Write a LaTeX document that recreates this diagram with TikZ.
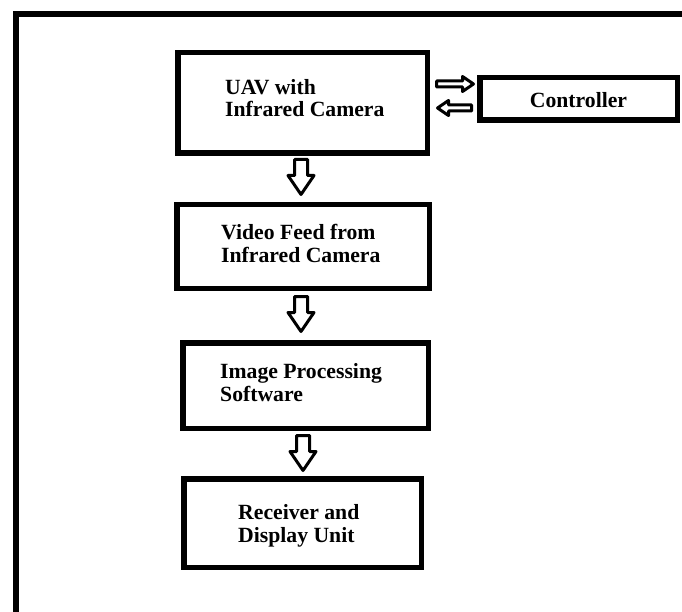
\documentclass[tikz,border=0pt]{standalone}
\usepackage{fontspec}
\setmainfont{Liberation Serif}
\begin{document}
\begin{tikzpicture}[x=1pt,y=-1pt,
  box/.style={draw, line width=5.5pt, inner sep=0pt, fill=white},
  lbl/.style={font=\bfseries\fontsize{21.7}{22.5}\selectfont, align=left, anchor=base west, inner sep=0pt},
  blk/.style={draw, line width=3pt, fill=white, line join=round}]
\useasboundingbox (0,0) rectangle (682,612);
\clip (0,0) rectangle (682,612);
\draw[line width=6pt] (16,640) -- (16,14) -- (700,14);
% boxes
\node[box, minimum width=249.5pt, minimum height=100.5pt] (uav) at (302.5,103) {};
\node[box, minimum width=197.5pt, minimum height=42.5pt] (ctrl) at (578.5,99) {};
\node[box, minimum width=252.5pt, minimum height=83.5pt] (video) at (303,246.5) {};
\node[box, minimum width=245.5pt, minimum height=85.5pt] (proc) at (305.5,385.5) {};
\node[box, minimum width=237.5pt, minimum height=88.5pt] (recv) at (302.5,523) {};
% labels
\node[lbl] (uavt) at (225,117) {UAV with\\Infrared Camera};
\node[font=\bfseries\fontsize{21.7}{22.5}\selectfont, inner sep=0pt] (ctrlt) at (578.5,100) {Controller};
\node[lbl] (videot) at (221,262) {Video Feed from\\Infrared Camera};
\node[lbl] (proct) at (220,401) {Image Processing\\Software};
\node[lbl] (recvt) at (238,542) {Receiver and\\Display Unit};
% anchor points of the block arrows
\coordinate (a1) at (301,159.5);
\coordinate (a2) at (301,296.5);
\coordinate (a3) at (303,435.5);
\coordinate (a4) at (436.5,84);
\coordinate (a5) at (471.5,108);
% downward block arrows
\foreach \c in {a1,a2,a3}{
  \draw[blk] (\c) ++(-6.5,0) -- ++(13,0) -- ++(0,16) -- ++(6.5,0) -- ++(-13,19) -- ++(-13,-19) -- ++(6.5,0) -- cycle;
}
% right arrow (UAV -> Controller)
\draw[blk] (a4) ++(0,-3) -- ++(26,0) -- ++(0,-4.5) -- ++(11,7.5) -- ++(-11,7.5) -- ++(0,-4.5) -- ++(-26,0) -- cycle;
% left arrow (Controller -> UAV)
\draw[blk] (a5) ++(0,-3) -- ++(-23,0) -- ++(0,-4.5) -- ++(-11,7.5) -- ++(11,7.5) -- ++(0,-4.5) -- ++(23,0) -- cycle;
\end{tikzpicture}
\end{document}
